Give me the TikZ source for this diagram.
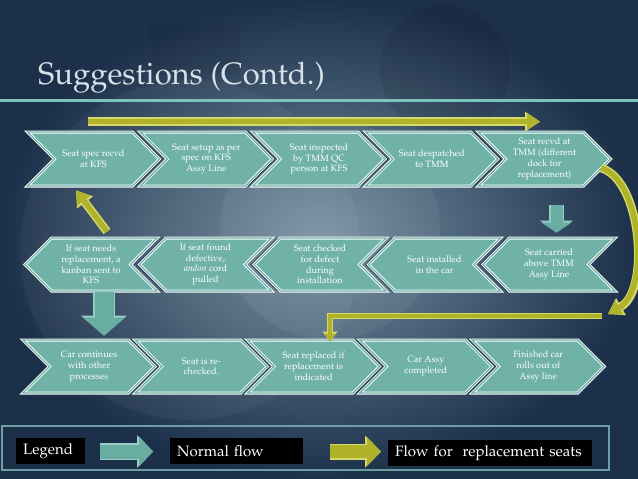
\documentclass[tikz,border=0pt]{standalone}
\usepackage[T1]{fontenc}
\usepackage{mathpazo}
\usepackage{tikz}
\usetikzlibrary{arrows.meta,positioning,shapes.symbols,shadows}
\definecolor{bgdark}{RGB}{28,48,74}
\definecolor{bglight}{RGB}{118,144,162}
\definecolor{chevteal}{RGB}{112,178,168}
\definecolor{chevshadow}{RGB}{38,56,80}
\definecolor{titlegrey}{RGB}{214,226,232}
\definecolor{ruleteal}{RGB}{124,195,190}
\definecolor{olivefill}{RGB}{176,178,42}
\definecolor{oliveedge}{RGB}{214,216,108}
\definecolor{flowteal}{RGB}{104,172,162}
\definecolor{flowedge}{RGB}{150,205,196}
\definecolor{legendteal}{RGB}{106,160,164}

\begin{document}
\begin{tikzpicture}[x=1pt,y=-1pt,
    chev/.style={signal, signal pointer angle=90, fill=chevteal, draw=white, double=chevteal,
      double distance=1.4pt, line width=0.8pt, minimum width=132pt, inner sep=0pt,
      text=white, align=center, font=\fontsize{9.2}{10.8}\selectfont},
    chevright/.style={chev, signal from=west, signal to=east, minimum height=54pt,
      drop shadow={shadow xshift=3.5pt, shadow yshift=0pt, fill=chevshadow, opacity=1}},
    chevleft/.style={chev, signal from=east, signal to=west, minimum height=53pt,
      drop shadow={shadow xshift=-3.5pt, shadow yshift=0pt, fill=chevshadow, opacity=1}},
    flowarrow/.style args={#1/#2/#3/#4}{draw=#4, line width=#1,
      -{Triangle[length=#3, width=#2, line width=0pt, fill=#4]}},
    normbig/.style={flowarrow=22pt/46pt/20pt/flowedge, postaction={flowarrow=19pt/42pt/18pt/flowteal}},
    normsmall/.style={flowarrow=15pt/33pt/12pt/flowedge, postaction={flowarrow=12pt/30pt/10pt/flowteal}},
    normlegend/.style={flowarrow=17pt/33pt/16pt/flowedge, postaction={flowarrow=14pt/30pt/14pt/flowteal}},
    replbig/.style={flowarrow=8.5pt/20pt/15pt/oliveedge, postaction={flowarrow=5.5pt/16pt/13pt/olivefill}},
    replbar/.style={flowarrow=6.5pt/15pt/10pt/oliveedge, postaction={flowarrow=4pt/12pt/8pt/olivefill}},
    repllegend/.style={flowarrow=16pt/32pt/16pt/oliveedge, postaction={flowarrow=13pt/29pt/14pt/olivefill}},
    legbox/.style={fill=black, text=white, anchor=west, minimum height=26pt, inner xsep=7pt,
      align=left, font=\fontsize{15}{18}\selectfont}
  ]
  % background
  \useasboundingbox (0,0) rectangle (638,479);
  \shade[inner color=bglight, outer color=bgdark] (0,0) rectangle (638,479);
  \fill[white, opacity=0.04] (190,250) circle (170);
  \fill[white, opacity=0.05] (330,230) circle (110);
  \fill[black, opacity=0.07] (445,70) circle (65);
  \fill[black, opacity=0.05] (150,25) rectangle (240,75);

  % title
  \node[anchor=base west, inner sep=0pt, text=titlegrey, font=\fontsize{31}{36}\selectfont] (title)
    at (38,84) {Suggestions (Contd.)};
  \draw[ruleteal, line width=3pt] (0,100) -- (638,100);

  % first row
  \node[chevright] (r1c1) at (93.5,159) {Seat spec recvd\\at KFS};
  \node[chevright] (r1c2) at (206.3,159) {Seat setup as per\\spec on KFS\\Assy Line};
  \node[chevright] (r1c3) at (319,159) {Seat inspected\\by TMM QC\\person at KFS};
  \node[chevright] (r1c4) at (431.8,159) {Seat despatched\\to TMM};
  \node[chevright] (r1c5) at (544.5,159) {Seat recvd at\\TMM (different\\dock for\\replacement)};

  % second row
  \node[chevleft] (r2c5) at (549,264.5) {Seat carried\\above TMM\\Assy Line};
  \node[chevleft] (r2c4) at (434.5,264.5) {Seat installed\\in the car};
  \node[chevleft] (r2c3) at (320,264.5) {Seat checked\\for defect\\during\\installation};
  \node[chevleft] (r2c2) at (205.5,264.5) {If seat found\\defective,\\\textit{andon} cord\\pulled};
  \node[chevleft] (r2c1) at (91,264.5) {If seat needs\\replacement, a\\kanban sent to\\KFS};

  % third row
  \node[chevright, minimum height=53pt] (r3c1) at (89,366.5) {Car continues\\with other\\processes};
  \node[chevright, minimum height=53pt] (r3c2) at (201.3,366.5) {Seat is re-\\checked.};
  \node[chevright, minimum height=53pt] (r3c3) at (313.6,366.5) {Seat replaced if\\replacement is\\indicated};
  \node[chevright, minimum height=53pt] (r3c4) at (425.9,366.5) {Car Assy\\completed};
  \node[chevright, minimum height=53pt] (r3c5) at (538.2,366.5) {Finished car\\rolls out of\\Assy line};

  % normal flow
  \draw[normsmall] ([xshift=12pt,yshift=-19pt]r1c5.south) -- ([xshift=7.5pt,yshift=5pt]r2c5.north);
  \draw[normbig] ([xshift=13pt,yshift=-1pt]r2c1.south) -- ([xshift=15pt,yshift=4pt]r3c1.north);

  % replacement flow
  \coordinate (barstart) at (602,316);
  \draw[replbig] ([xshift=-5.5pt,yshift=10pt]r1c1.north) -- ([xshift=-4.5pt,yshift=10pt]r1c5.north);
  \draw[replbig] ([xshift=-10pt,yshift=-9pt]r1c5.east) .. controls (642,180) and (650,290) .. ([xshift=6pt,yshift=2pt]barstart);
  \draw[replbar] (barstart) -| ([xshift=16.4pt,yshift=-2pt]r3c3.north);
  \draw[replbig] ([xshift=16pt,yshift=6pt]r2c1.north) -- ([xshift=-17.5pt,yshift=-4pt]r1c1.south);

  % legend
  \draw[legendteal, line width=2pt] (2,426) rectangle (609,470);
  \node[legbox, text width=55pt] (legtitle) at (16,451) {Legend};
  \node[legbox, text width=119pt] (legnormal) at (170,451) {Normal flow};
  \node[legbox, text width=190pt] (legrepl) at (388,453) {Flow for~ replacement seats};
  \coordinate (legnormtail) at (100,451.5);
  \coordinate (legnormtip) at (153,451.5);
  \coordinate (legrepltail) at (330,451.5);
  \coordinate (legrepltip) at (381,451.5);
  \draw[normlegend] (legnormtail) -- (legnormtip);
  \draw[repllegend] (legrepltail) -- (legrepltip);
\end{tikzpicture}
\end{document}
